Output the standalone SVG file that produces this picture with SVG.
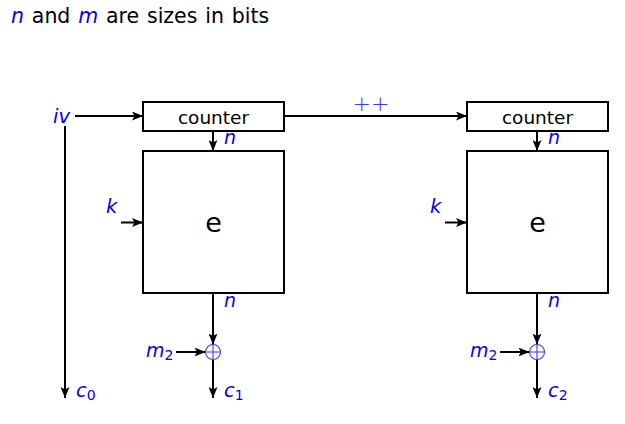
<svg xmlns="http://www.w3.org/2000/svg" width="625" height="424" viewBox="0 0 625 424">
<defs>
<marker id="ah" viewBox="0 0 11 9" refX="11" refY="4.5" markerWidth="11" markerHeight="9" markerUnits="userSpaceOnUse" orient="auto">
<path d="M0,0 L11,4.5 L0,9 L2.5,4.5 Z" fill="#000"/>
</marker>
<style>
.box{fill:#fff;stroke:#000;stroke-width:2}
.ar{fill:none;stroke:#000;stroke-width:2;marker-end:url(#ah)}
.t{font-family:"DejaVu Sans",sans-serif;fill:#000}
.v{font-family:"DejaVu Sans",sans-serif;font-style:italic;fill:#0000ff}
.s{font-style:normal;font-size:14px}
.xor{fill:none;stroke:#3a3aff;stroke-width:1.1}
</style>
</defs>
<rect width="625" height="424" fill="#fff"/>
<text x="11" y="23" class="t" font-size="20.5" word-spacing="1.3"><tspan class="v">n</tspan> and <tspan class="v">m</tspan> are sizes in bits</text>

<g id="connectors">
<line class="ar" x1="75" y1="116" x2="143" y2="116"/>
<line class="ar" x1="65" y1="126" x2="65" y2="398"/>
<line class="ar" x1="284" y1="116" x2="467" y2="116"/>
<line class="ar" x1="213" y1="131" x2="213" y2="151"/>
<line class="ar" x1="537" y1="131" x2="537" y2="151"/>
<line class="ar" x1="121" y1="222.5" x2="143" y2="222.5"/>
<line class="ar" x1="445" y1="222.5" x2="467" y2="222.5"/>
<line class="ar" x1="213" y1="293" x2="213" y2="344.5"/>
<line class="ar" x1="537" y1="293" x2="537" y2="344.5"/>
<line class="ar" x1="176" y1="352" x2="205.5" y2="352"/>
<line class="ar" x1="500" y1="352" x2="529.5" y2="352"/>
<line class="ar" x1="213" y1="359.5" x2="213" y2="398"/>
<line class="ar" x1="537" y1="359.5" x2="537" y2="398"/>
</g>

<g id="labels">
<text x="53" y="123" class="v" font-size="19.5">iv</text>
<text x="371" y="111" class="t" font-size="22" font-weight="200" text-anchor="middle" style="fill:#3a3aff">++</text>
<text x="224" y="144" class="v" font-size="19">n</text>
<text x="548" y="144" class="v" font-size="19">n</text>
<text x="106" y="213" class="v" font-size="19.5">k</text>
<text x="430" y="213" class="v" font-size="19.5">k</text>
<text x="224" y="307" class="v" font-size="19">n</text>
<text x="548" y="307" class="v" font-size="19">n</text>
<text x="146" y="357" class="v" font-size="19">m<tspan class="s" dy="3">2</tspan></text>
<text x="470" y="357" class="v" font-size="19">m<tspan class="s" dy="3">2</tspan></text>
<text x="76" y="397" class="v" font-size="19.5">c<tspan class="s" dy="3">0</tspan></text>
<text x="224" y="397" class="v" font-size="19.5">c<tspan class="s" dy="3">1</tspan></text>
<text x="548" y="397" class="v" font-size="19.5">c<tspan class="s" dy="3">2</tspan></text>
</g>

<g id="counter1">
<rect class="box" x="143" y="102" width="141" height="29"/>
<text x="213.5" y="124" class="t" font-size="18.5" text-anchor="middle">counter</text>
</g>
<g id="e1">
<rect class="box" x="143" y="151" width="141" height="142"/>
<text x="213.5" y="232" class="t" font-size="27" text-anchor="middle">e</text>
</g>
<g id="xor1">
<circle class="xor" cx="213" cy="352" r="7.5"/>
<path class="xor" d="M205.5,352 H220.5 M213,344.5 V359.5"/>
</g>

<g id="counter2">
<rect class="box" x="467" y="102" width="141" height="29"/>
<text x="537.5" y="124" class="t" font-size="18.5" text-anchor="middle">counter</text>
</g>
<g id="e2">
<rect class="box" x="467" y="151" width="141" height="142"/>
<text x="537.5" y="232" class="t" font-size="27" text-anchor="middle">e</text>
</g>
<g id="xor2">
<circle class="xor" cx="537" cy="352" r="7.5"/>
<path class="xor" d="M529.5,352 H544.5 M537,344.5 V359.5"/>
</g>
</svg>
